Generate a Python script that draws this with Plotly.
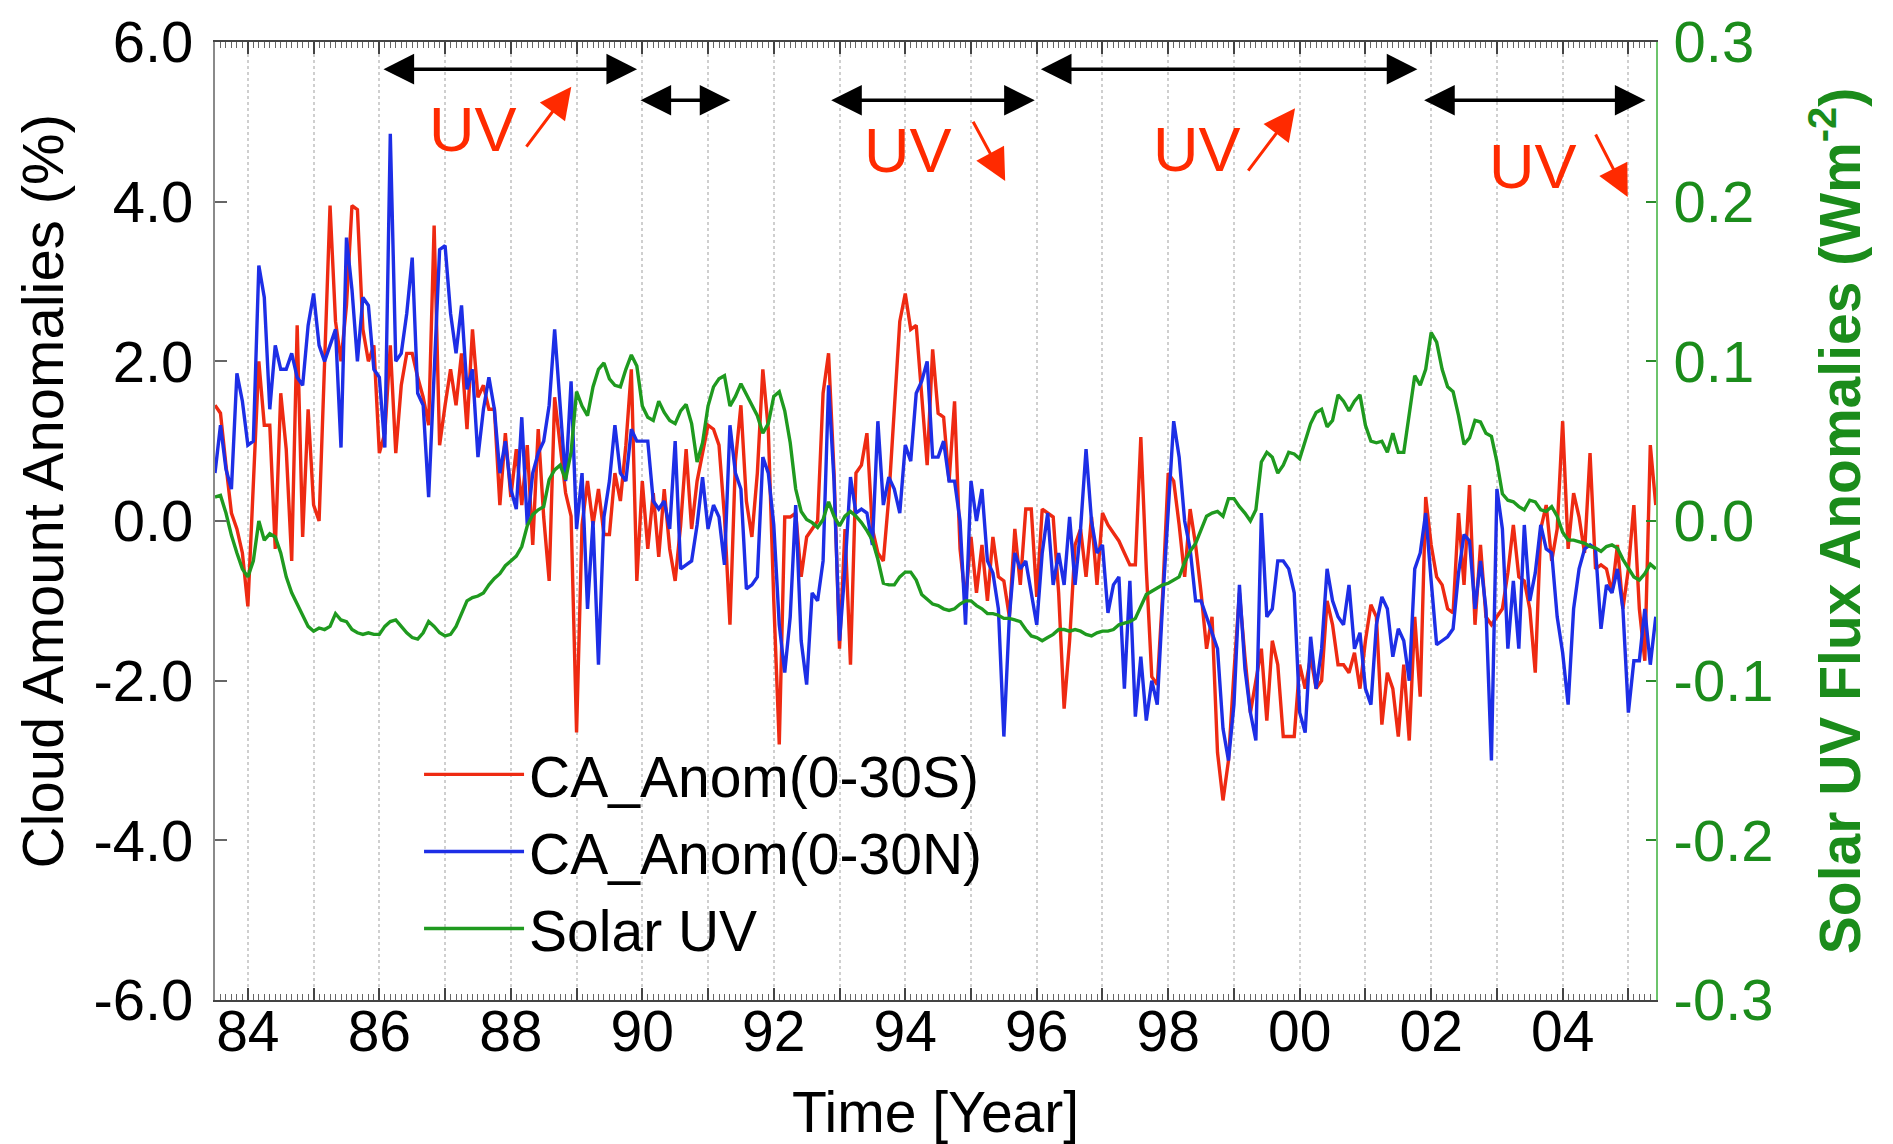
import plotly.graph_objects as go

# ---------------- data (monthly, Jul 1983 .. Jun 2005) ----------------
start_year = 1983.5
ca_south = [  # CA_Anom(0-30S), %
    1.45, 1.35, 0.7, 0.1, -0.1, -0.4,
    -1.07, 0.5, 2.0, 1.2, 1.2, -0.35, 1.6, 0.9, -0.5, 2.45, -0.2, 1.4,
    0.2, 0.0, 1.9, 3.95, 2.5, 2.0, 2.7, 3.95, 3.9, 2.4, 2.0, 2.2,
    0.85, 1.1, 2.2, 0.85, 1.7, 2.1, 2.1, 1.8, 1.55, 1.2, 3.7, 0.95,
    1.45, 1.9, 1.45, 2.1, 1.15, 2.4, 1.55, 1.7, 1.4, 1.4, 0.2, 1.1,
    0.3, 0.9, 0.2, 0.95, -0.3, 1.15, 0.05, -0.75, 1.55, 0.95, 0.35, 0.06,
    -2.65, -0.05, 0.5, -0.05, 0.4, -0.17, -0.17, 0.6, 0.25, 0.95, 1.9, -0.75,
    0.5, -0.35, 0.35, -0.45, 0.4, -0.35, -0.75, -0.05, 0.9, -0.1, 0.5, 0.85,
    1.2, 1.15, 0.95, 0.05, -1.3, 0.75, 1.45, 0.25, -0.2, 0.6, 1.9, 1.15,
    -1.0, -2.8, 0.05, 0.05, 0.1, -0.7, -0.2, -0.1, 0.0, 1.6, 2.1, 0.6,
    -1.6, -0.1, -1.8, 0.6, 0.7, 1.1, -0.1, -0.4, -0.5, 0.3, 1.4, 2.5,
    2.85, 2.4, 2.45, 1.55, 0.7, 2.15, 1.35, 1.3, 0.5, 1.5, -0.35, -1.0,
    -0.2, -0.9, -0.3, -1.0, -0.2, -0.7, -0.75, -1.2, -0.1, -0.8, 0.15, 0.15,
    -0.95, 0.15, 0.1, 0.05, -0.9, -2.35, -1.5, -0.3, -0.1, -0.7, 0.05, -0.8,
    0.1, -0.05, -0.15, -0.25, -0.4, -0.55, -0.55, 1.05, -0.6, -1.95, -2.05, -0.9,
    0.6, 0.5, -0.05, -0.7, 0.15, -0.3, -0.9, -1.6, -1.2, -2.9, -3.5, -3.0,
    -1.9, -0.9, -1.7, -2.4, -2.0, -1.6, -2.5, -1.5, -1.8, -2.7, -2.7, -2.7,
    -1.8, -2.1, -1.7, -2.1, -2.0, -1.0, -1.3, -1.8, -1.8, -1.9, -1.65, -2.1,
    -1.5, -1.05, -1.2, -2.55, -1.9, -2.1, -2.7, -1.8, -2.75, -1.2, -2.2, 0.3,
    -0.3, -0.7, -0.8, -1.1, -1.15, 0.1, -0.8, 0.45, -1.3, -0.3, -1.2, -1.3,
    -1.2, -1.1, -0.65, -0.05, -0.7, -0.75, -1.1, -1.9, -0.1, 0.2, -0.5, -0.1,
    1.25, -0.35, 0.35, 0.05, -0.4, 0.85, -0.6, -0.55, -0.6, -0.9, -0.3, -1.1,
    -0.6, 0.2, -1.1, -1.75, 0.95, 0.2,
]
ca_north = [  # CA_Anom(0-30N), %
    0.6, 1.2, 0.65, 0.4, 1.85, 1.5,
    0.95, 1.0, 3.2, 2.8, 1.4, 2.2, 1.9, 1.9, 2.1, 1.8, 1.7, 2.45,
    2.85, 2.2, 2.0, 2.2, 2.4, 0.92, 3.55, 2.9, 2.0, 2.8, 2.7, 1.9,
    1.8, 0.92, 4.85, 2.0, 2.1, 2.6, 3.3, 1.6, 1.45, 0.3, 1.8, 3.4,
    3.45, 2.6, 2.1, 2.7, 1.65, 1.9, 0.8, 1.4, 1.8, 1.4, 0.6, 1.0,
    0.4, 0.15, 1.3, -0.05, 0.6, 0.85, 1.0, 1.45, 2.4, 1.4, 0.5, 1.75,
    -0.1, 0.6, -1.1, 0.0, -1.8, 0.05, 0.5, 1.2, 0.6, 0.5, 1.15, 1.0,
    1.0, 1.0, 0.25, 0.15, 0.25, -0.1, 1.0, -0.6, -0.55, -0.5, -0.05, 0.55,
    -0.1, 0.2, 0.05, -0.55, 1.2, 0.6, 0.4, -0.85, -0.8, -0.7, 0.8, 0.6,
    -0.05, -1.3, -1.9, -1.2, 0.2, -1.5, -2.05, -0.9, -1.0, -0.5, 1.7, 0.5,
    -1.5, -0.6, 0.55, 0.1, 0.15, 0.1, -0.3, 1.25, 0.2, 0.55, 0.4, 0.1,
    0.95, 0.75, 1.6, 1.75, 2.0, 0.8, 0.8, 1.0, 0.5, 0.5, 0.0, -1.3,
    0.5, 0.0, 0.4, -0.5, -0.65, -1.1, -2.7, -1.2, -0.4, -0.6, -0.5, -0.9,
    -1.3, -0.4, 0.1, -0.8, -0.4, -0.8, 0.05, -0.8, -0.1, 0.9, 0.0, -0.4,
    -0.3, -1.15, -0.8, -0.7, -2.1, -0.75, -2.45, -1.7, -2.5, -2.0, -2.3, -1.0,
    0.15, 1.25, 0.8, 0.0, -0.35, -1.0, -1.0, -1.2, -1.4, -1.6, -2.6, -3.0,
    -2.3, -0.8, -1.85, -2.4, -2.75, 0.1, -1.2, -1.1, -0.5, -0.5, -0.6, -0.9,
    -2.4, -2.65, -1.45, -2.1, -1.6, -0.6, -1.0, -1.2, -1.3, -0.8, -1.6, -1.4,
    -2.1, -2.3, -1.3, -0.95, -1.1, -1.7, -1.35, -1.5, -2.0, -0.6, -0.4, 0.1,
    -0.75, -1.55, -1.5, -1.45, -1.35, -0.65, -0.17, -0.25, -1.1, -0.5, -1.1, -3.0,
    0.4, -0.1, -1.6, -0.75, -1.6, -0.05, -1.0, -0.65, -0.05, -0.35, -0.4, -1.2,
    -1.65, -2.3, -1.1, -0.6, -0.35, -0.3, -0.35, -1.35, -0.8, -0.9, -0.6, -1.1,
    -2.4, -1.75, -1.75, -1.1, -1.8, -1.2,
]
solar_uv = [  # Solar UV flux anomalies, W m-2
    0.015, 0.016, 0.005, -0.009, -0.020, -0.030,
    -0.035, -0.025, 0.000, -0.012, -0.008, -0.010, -0.020, -0.035, -0.045, -0.052, -0.060, -0.066,
    -0.069, -0.067, -0.068, -0.066, -0.058, -0.062, -0.063, -0.068, -0.070, -0.071, -0.070, -0.071,
    -0.071, -0.066, -0.063, -0.062, -0.066, -0.070, -0.073, -0.074, -0.070, -0.063, -0.066, -0.070,
    -0.072, -0.071, -0.066, -0.058, -0.050, -0.048, -0.047, -0.045, -0.040, -0.036, -0.033, -0.028,
    -0.025, -0.022, -0.016, -0.003, 0.004, 0.007, 0.009, 0.026, 0.032, 0.035, 0.026, 0.043,
    0.081, 0.072, 0.066, 0.084, 0.095, 0.099, 0.089, 0.085, 0.084, 0.095, 0.104, 0.097,
    0.072, 0.065, 0.063, 0.075, 0.068, 0.063, 0.061, 0.069, 0.073, 0.061, 0.037, 0.049,
    0.072, 0.084, 0.089, 0.091, 0.072, 0.078, 0.086, 0.079, 0.072, 0.066, 0.055, 0.061,
    0.078, 0.081, 0.069, 0.049, 0.020, 0.006, 0.001, -0.001, -0.004, 0.001, 0.012, 0.003,
    -0.003, 0.003, 0.006, 0.003, -0.001, -0.006, -0.012, -0.024, -0.039, -0.040, -0.040, -0.035,
    -0.032, -0.032, -0.037, -0.046, -0.049, -0.052, -0.053, -0.055, -0.056, -0.055, -0.052, -0.050,
    -0.050, -0.053, -0.055, -0.058, -0.058, -0.059, -0.061, -0.061, -0.062, -0.063, -0.068, -0.072,
    -0.073, -0.075, -0.073, -0.071, -0.068, -0.068, -0.069, -0.068, -0.069, -0.071, -0.072, -0.070,
    -0.069, -0.069, -0.068, -0.065, -0.064, -0.063, -0.061, -0.053, -0.046, -0.044, -0.042, -0.040,
    -0.039, -0.037, -0.035, -0.026, -0.019, -0.014, -0.006, 0.003, 0.005, 0.006, 0.003, 0.014,
    0.014, 0.009, 0.005, 0.000, 0.007, 0.037, 0.043, 0.040, 0.030, 0.035, 0.043, 0.042,
    0.039, 0.050, 0.061, 0.068, 0.070, 0.059, 0.063, 0.079, 0.075, 0.069, 0.075, 0.079,
    0.060, 0.050, 0.049, 0.050, 0.043, 0.055, 0.043, 0.043, 0.066, 0.091, 0.085, 0.095,
    0.118, 0.112, 0.095, 0.084, 0.081, 0.066, 0.048, 0.052, 0.063, 0.062, 0.055, 0.053,
    0.037, 0.017, 0.013, 0.012, 0.009, 0.007, 0.013, 0.012, 0.007, 0.006, 0.009, 0.003,
    -0.007, -0.012, -0.012, -0.013, -0.014, -0.016, -0.017, -0.019, -0.016, -0.015, -0.017, -0.024,
    -0.030, -0.035, -0.037, -0.033, -0.027, -0.030,
]
time = [start_year + i / 12 for i in range(len(ca_south))]

year_ticks = list(range(1984, 2006))
year_labels = [("%02d" % (y % 100)) if y % 2 == 0 else "" for y in year_ticks]
left_ticks = [6, 4, 2, 0, -2, -4, -6]
left_labels = ["6.0", "4.0", "2.0", "0.0", "-2.0", "-4.0", "-6.0"]
right_ticks = [0.3, 0.2, 0.1, 0.0, -0.1, -0.2, -0.3]
right_labels = ["0.3", "0.2", "0.1", "0.0", "-0.1", "-0.2", "-0.3"]

# annotation periods (start year, end year, y level)
periods = [(1986.04, 1989.92, 5.66), (1989.95, 1991.34, 5.27), (1992.85, 1995.97, 5.27),
           (1996.04, 2001.79, 5.66), (2001.87, 2005.26, 5.27)]
uv_labels = [(1987.42, 4.91), (1994.04, 4.65), (1998.44, 4.66), (2003.55, 4.45)]
uv_arrows = [((1988.22, 4.67), (1988.92, 5.44)), ((1995.02, 5.02), (1995.52, 4.26)),
             ((1999.20, 4.37), (1999.93, 5.17)), ((2004.49, 4.86), (2004.99, 4.06))]

RED = "#ee2a12"
BLUE = "#1d2ee6"
GREEN = "#1f9a1f"
GREEN_TXT = "#1b8c1b"
ANN_RED = "#ff2a00"
FONT = "Liberation Sans, Arial, Helvetica, sans-serif"

fig = go.Figure()
fig.add_trace(go.Scatter(x=time, y=ca_south, name="CA_Anom(0-30S)", mode="lines",
                         line=dict(color=RED, width=3.4)))
fig.add_trace(go.Scatter(x=time, y=ca_north, name="CA_Anom(0-30N)", mode="lines",
                         line=dict(color=BLUE, width=3.4)))
fig.add_trace(go.Scatter(x=time, y=solar_uv, name="Solar UV", mode="lines",
                         line=dict(color=GREEN, width=3.4), yaxis="y2"))

annotations = []
for x0, x1, yv in periods:
    annotations.append(dict(x=x1, y=yv, ax=x0, ay=yv, xref="x", yref="y", axref="x", ayref="y",
                            text="", showarrow=True, arrowside="end+start",
                            arrowhead=2, startarrowhead=2, arrowsize=1.75, startarrowsize=1.75,
                            arrowwidth=3.5, arrowcolor="black", standoff=0, startstandoff=0))
for xv, yv in uv_labels:
    annotations.append(dict(x=xv, y=yv, xref="x", yref="y", text="UV", showarrow=False,
                            font=dict(size=63, color=ANN_RED, family=FONT)))
for (tx, ty), (hx, hy) in uv_arrows:
    annotations.append(dict(x=hx, y=hy, ax=tx, ay=ty, xref="x", yref="y", axref="x", ayref="y",
                            text="", showarrow=True, arrowhead=2, arrowsize=2.1,
                            arrowwidth=3, arrowcolor=ANN_RED, standoff=0))
# left axis title (placed as in the reference, slightly above the axis middle)
annotations.append(dict(x=-0.12, y=0.531, xref="paper", yref="paper", xanchor="center",
                        yanchor="middle", textangle=-90, showarrow=False,
                        text="Cloud Amount Anomalies (%)", font=dict(size=58, color="black", family=FONT)))

fig.update_layout(
    width=1893, height=1144,
    margin=dict(l=215, r=237, t=42, b=144, autoexpand=False),
    paper_bgcolor="white", plot_bgcolor="white",
    font=dict(family=FONT, size=57, color="black"),
    showlegend=True,
    legend=dict(x=0.1416, y=0.281, xanchor="left", yanchor="top", bgcolor="rgba(0,0,0,0)",
                font=dict(size=57, family=FONT), tracegroupgap=0, itemwidth=100),
    annotations=annotations,
    xaxis=dict(range=[1983.5, 2005.42], tickvals=year_ticks, ticktext=year_labels,
               ticks="inside", ticklen=12, tickwidth=1.5, tickcolor="#444",
               showline=True, linecolor="#444", linewidth=2, mirror="ticks",
               showgrid=True, gridcolor="#cfcfcf", griddash="dot", gridwidth=1.5,
               minor=dict(dtick=1 / 12, tick0=1984, ticks="inside", ticklen=6,
                          tickcolor="#666", tickwidth=1, showgrid=False),
               tickfont=dict(size=57),
               zeroline=False, automargin=False, ticklabelstandoff=-19,
               title=dict(text="Time [Year]", standoff=31, font=dict(size=57))),
    yaxis=dict(range=[-6, 6], tickvals=left_ticks, ticktext=left_labels,
               ticks="inside", ticklen=12, tickwidth=1.5, tickcolor="#666",
               showline=True, linecolor="#8a8a8a", linewidth=2,
               tickfont=dict(size=58),
               showgrid=False, zeroline=False, automargin=False, ticklabelstandoff=8),
    yaxis2=dict(overlaying="y", side="right", range=[-0.3, 0.3],
                tickvals=right_ticks, ticktext=right_labels,
                ticks="inside", ticklen=10, tickwidth=1.5, tickcolor="#2a8a2a",
                showline=True, linecolor="#6cc46c", linewidth=2,
                tickfont=dict(color=GREEN_TXT, size=58),
                showgrid=False, zeroline=False, automargin=False, ticklabelstandoff=4,
                title=dict(text="<b>Solar UV Flux Anomalies (Wm<sup>-2</sup>)</b>", standoff=48,
                           font=dict(color=GREEN_TXT, size=57))),
)

fig.write_html("out.html")
